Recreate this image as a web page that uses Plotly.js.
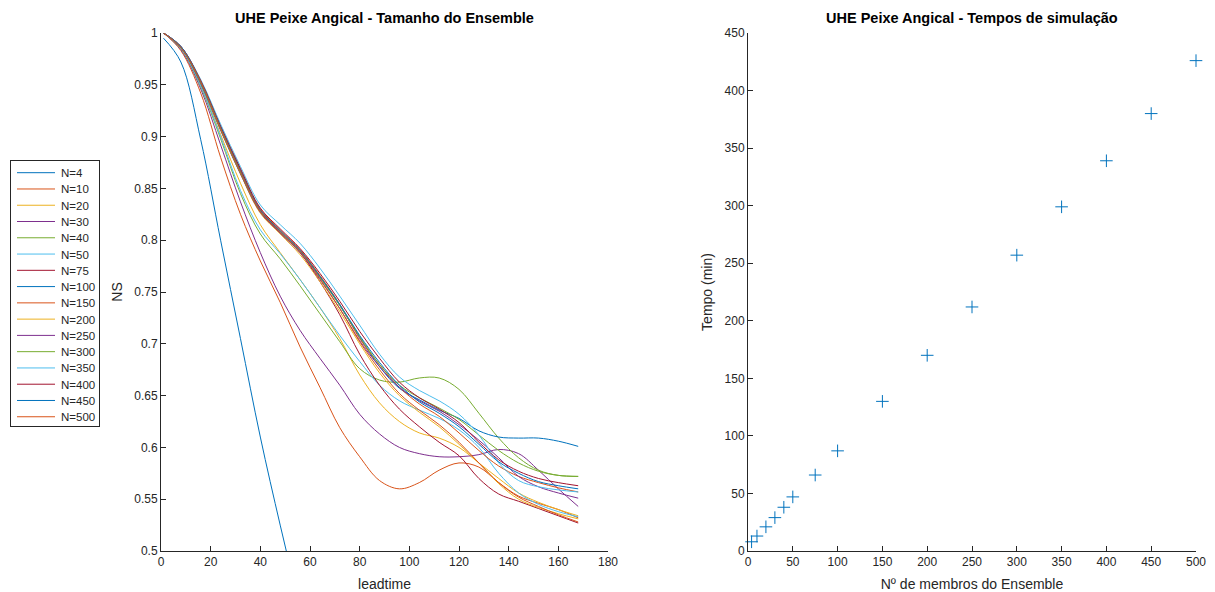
<!DOCTYPE html>
<html>
<head>
<meta charset="utf-8">
<script src="https://cdn.plot.ly/plotly-3.0.1.min.js"></script>
<style>html,body{margin:0;padding:0;background:#fff}#chart{width:1215px;height:592px}</style>
</head>
<body>
<div id="chart"></div>
<script>
// ---- Left panel data: NS vs leadtime ----
const leadtime = [1,8,16,24,32,40,48,56,64,72,80,88,96,104,112,120,128,136,144,152,160,168];
const ns_N4   = [0.995,0.972,0.897,0.800,0.705,0.610,0.525,0.445,0.370,null,null,null,null,null,null,null,null,null,null,null,null,null];
const ns_N10  = [1.0,0.983,0.942,0.880,0.825,0.780,0.740,0.697,0.658,0.619,0.591,0.568,0.560,0.566,0.578,0.585,0.581,0.566,0.553,0.546,0.540,0.532];
const ns_N20  = [1.0,0.985,0.950,0.902,0.855,0.815,0.788,0.762,0.735,0.705,0.670,0.643,0.625,0.614,0.609,0.600,0.585,0.570,0.556,0.547,0.540,0.534];
const ns_N30  = [1.0,0.984,0.946,0.892,0.837,0.788,0.746,0.713,0.686,0.660,0.632,0.613,0.600,0.594,0.591,0.591,0.593,0.598,0.594,0.578,0.560,0.543];
const ns_N40  = [1.0,0.985,0.948,0.898,0.845,0.806,0.782,0.756,0.729,0.702,0.676,0.665,0.663,0.667,0.667,0.656,0.633,0.609,0.590,0.578,0.573,0.572];
const ns_N50  = [1.0,0.985,0.949,0.900,0.848,0.810,0.787,0.762,0.735,0.708,0.683,0.660,0.645,0.636,0.628,0.617,0.600,0.575,0.556,0.545,0.538,0.533];
const ns_N75  = [1.0,0.986,0.952,0.907,0.865,0.827,0.807,0.788,0.760,0.728,0.690,0.660,0.637,0.620,0.605,0.592,0.570,0.555,0.548,0.541,0.534,0.527];
const ns_N100 = [1.0,0.986,0.953,0.909,0.867,0.829,0.809,0.790,0.765,0.737,0.706,0.678,0.657,0.646,0.636,0.628,0.616,0.610,0.609,0.609,0.606,0.601];
const ns_N150 = [1.0,0.987,0.954,0.910,0.868,0.830,0.810,0.791,0.766,0.738,0.705,0.680,0.658,0.642,0.630,0.614,0.597,0.582,0.572,0.566,0.561,0.557];
const ns_N200 = [1.0,0.986,0.952,0.907,0.864,0.826,0.806,0.786,0.760,0.731,0.700,0.672,0.650,0.634,0.620,0.603,0.585,0.565,0.550,0.542,0.536,0.531];
const ns_N250 = [1.0,0.986,0.951,0.906,0.864,0.827,0.807,0.788,0.762,0.734,0.703,0.678,0.658,0.645,0.635,0.622,0.607,0.590,0.572,0.562,0.556,0.551];
const ns_N300 = [1.0,0.986,0.952,0.907,0.865,0.828,0.808,0.789,0.764,0.737,0.707,0.680,0.660,0.648,0.638,0.627,0.612,0.597,0.585,0.577,0.573,0.572];
const ns_N350 = [1.0,0.987,0.955,0.912,0.871,0.834,0.815,0.797,0.773,0.746,0.718,0.690,0.668,0.655,0.645,0.632,0.612,0.585,0.568,0.562,0.559,0.557];
const ns_N400 = [1.0,0.987,0.954,0.910,0.869,0.831,0.811,0.792,0.768,0.741,0.712,0.686,0.663,0.648,0.637,0.624,0.605,0.588,0.577,0.570,0.566,0.563];
const ns_N450 = [1.0,0.987,0.953,0.909,0.867,0.829,0.809,0.790,0.765,0.738,0.708,0.682,0.660,0.644,0.633,0.620,0.603,0.586,0.575,0.567,0.563,0.560];
const ns_N500 = [1.0,0.986,0.953,0.908,0.866,0.828,0.808,0.789,0.763,0.734,0.702,0.675,0.652,0.636,0.622,0.605,0.585,0.566,0.552,0.543,0.535,0.528];

const seriesNames = ['N=4','N=10','N=20','N=30','N=40','N=50','N=75','N=100','N=150','N=200','N=250','N=300','N=350','N=400','N=450','N=500'];
const seriesValues = [ns_N4,ns_N10,ns_N20,ns_N30,ns_N40,ns_N50,ns_N75,ns_N100,ns_N150,ns_N200,ns_N250,ns_N300,ns_N350,ns_N400,ns_N450,ns_N500];

const nsTickVals = [0.5,0.55,0.6,0.65,0.7,0.75,0.8,0.85,0.9,0.95,1];
const nsTickText = ['0.5','0.55','0.6','0.65','0.7','0.75','0.8','0.85','0.9','0.95','1'];
const leadTickVals = [0,20,40,60,80,100,120,140,160,180];

// ---- Right panel data: simulation time vs ensemble size ----
const members = [4,10,20,30,40,50,75,100,150,200,250,300,350,400,450,500];
const tempoMin = [8,13,21,29,38,47,66,87,130,170,212,257,299,339,380,426];
const memberTickVals = [0,50,100,150,200,250,300,350,400,450,500];
const tempoTickVals = [0,50,100,150,200,250,300,350,400,450];

const palette = ['#0072BD','#D95319','#EDB120','#7E2F8E','#77AC30','#4DBEEE','#A2142F'];
const FONT = 'Liberation Sans, Arial, Helvetica, sans-serif';
const AX = '#262626';

const traces = seriesNames.map((n,i)=>({
  x: leadtime, y: seriesValues[i], type:'scatter', mode:'lines', name:n,
  line:{color:palette[i%7], width:1, shape:'spline', smoothing:1},
  xaxis:'x', yaxis:'y', hoverinfo:'skip'
}));
traces.push({
  x: members, y: tempoMin, type:'scatter', mode:'markers', showlegend:false, cliponaxis:false,
  marker:{symbol:'cross-thin-open', size:9, color:'#0072BD', line:{color:'#0072BD', width:1}},
  xaxis:'x2', yaxis:'y2'
});

const axCommon = {showgrid:false, zeroline:false, showline:true, linecolor:AX, linewidth:1,
  ticks:'inside', ticklen:5, tickcolor:AX, tickwidth:1, mirror:false,
  tickfont:{family:FONT, size:12, color:AX}};
const yDom = [41/592, 559/592];
const labFont = {family:FONT, size:14, color:AX};

const layout = {
  width:1215, height:592, paper_bgcolor:'#fff', plot_bgcolor:'#fff',
  margin:{l:0,r:0,t:0,b:0}, font:{family:FONT, color:AX},
  showlegend:true,
  legend:{x:10/1215, y:(592-160)/592, xanchor:'left', yanchor:'top', bgcolor:'#fff',
    bordercolor:AX, borderwidth:1, font:{family:FONT, size:11.5, color:AX}, tracegroupgap:0},
  xaxis:Object.assign({}, axCommon, {domain:[161/1215, 608/1215], range:[0,180], tickvals:leadTickVals, anchor:'y',
    title:{text:'leadtime', font:labFont, standoff:11}}),
  yaxis:Object.assign({}, axCommon, {domain:yDom, range:[0.5,1], tickvals:nsTickVals, ticktext:nsTickText, anchor:'x',
    title:{text:'NS', font:labFont, standoff:8}}),
  xaxis2:Object.assign({}, axCommon, {domain:[748/1215, 1196/1215], range:[0,500], tickvals:memberTickVals, anchor:'y2',
    title:{text:'Nº de membros do Ensemble', font:labFont, standoff:11}}),
  yaxis2:Object.assign({}, axCommon, {domain:yDom, range:[0,450], tickvals:tempoTickVals, anchor:'x2',
    title:{text:'Tempo (min)', font:labFont, standoff:8}}),
  annotations:[
    {text:'<b>UHE Peixe Angical - Tamanho do Ensemble</b>', xref:'paper', yref:'paper',
     x:384.5/1215, y:(592-18)/592, xanchor:'center', yanchor:'middle', showarrow:false,
     font:{family:FONT, size:14.5, color:'#000'}},
    {text:'<b>UHE Peixe Angical - Tempos de simulação</b>', xref:'paper', yref:'paper',
     x:972/1215, y:(592-18)/592, xanchor:'center', yanchor:'middle', showarrow:false,
     font:{family:FONT, size:14.5, color:'#000'}}
  ]
};

Plotly.newPlot('chart', traces, layout, {staticPlot:true, displayModeBar:false}).then(gd => {
  // Tighten legend to MATLAB-like spacing
  const leg = gd.querySelector('g.legend');
  if (!leg) return;
  const items = leg.querySelectorAll('g.traces');
  const step = 16.27, first = 12.7;
  items.forEach((it, i) => {
    it.setAttribute('transform', 'translate(1,' + (first + i*step) + ')');
    it.querySelectorAll('.legendlines path').forEach(p => p.setAttribute('d', 'M6,0h38'));
    const t = it.querySelector('text.legendtext');
    if (t) {
      t.setAttribute('x', 50);
      t.querySelectorAll('tspan[x]').forEach(s => s.setAttribute('x', 50));
    }
  });
  const bg = leg.querySelector('rect.bg');
  if (bg) { bg.setAttribute('width', 89); bg.setAttribute('height', 266); }
  document.querySelectorAll('clipPath[id^="legend"] rect').forEach(r => {
    r.setAttribute('width', 100); r.setAttribute('height', 300);
  });
});
</script>
</body>
</html>
